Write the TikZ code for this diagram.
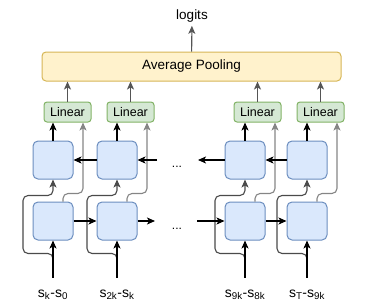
\documentclass[tikz,border=0pt]{standalone}
\usepackage{fontspec}
\setmainfont{Liberation Sans}
\usetikzlibrary{arrows.meta}
\definecolor{cellblue}{HTML}{DAE8FC}
\definecolor{cellline}{HTML}{6C8EBF}
\definecolor{lingreen}{HTML}{D5E8D4}
\definecolor{linline}{HTML}{82B366}
\definecolor{poolyellow}{HTML}{FFF2CC}
\definecolor{poolline}{HTML}{D6B656}
\definecolor{bypassgray}{HTML}{858585}
\definecolor{backgray}{HTML}{4A4A4A}
\definecolor{outgray}{HTML}{555555}

\begin{document}
\begin{tikzpicture}[x=1pt, y=-1pt, >={Stealth[length=8pt,width=7pt,inset=2pt]},
  cell/.style={draw=cellline, fill=cellblue, line width=1pt, rounded corners=5pt, minimum width=40pt, minimum height=38pt, inner sep=0pt},
  lin/.style={draw=linline, fill=lingreen, line width=1pt, rounded corners=3pt, minimum width=47pt, minimum height=20pt, inner sep=0pt, font=\fontsize{12.5}{14}\selectfont},
  seg/.style={font=\fontsize{14}{16}\selectfont, anchor=base},
  bypass/.style={->, bypassgray, line width=1.1pt, rounded corners=5pt},
  backin/.style={->, backgray, line width=1.1pt, rounded corners=5pt},
  flow/.style={->, black, line width=1.1pt},
  toout/.style={->, outgray, line width=1.1pt}]
  \useasboundingbox (0,0) rectangle (384,301);
  % pooling and output
  \node[draw=poolline, fill=poolyellow, line width=1pt, rounded corners=4pt, minimum width=299pt, minimum height=29pt,
    font=\fontsize{13.5}{15}\selectfont] (pool) at (191.5,66.5) {Average Pooling};
  \node[font=\fontsize{13.5}{15}\selectfont] (logits) at (192,16) {logits};
  % linear heads
  \node[lin] (l1) at (67.5,112) {Linear};
  \node[lin] (l2) at (130.5,112) {Linear};
  \node[lin] (l3) at (257.5,112) {Linear};
  \node[lin] (l4) at (320.5,112) {Linear};
  % backward cells (top) and forward cells (bottom)
  \node[cell] (b1) at (53,160) {};
  \node[cell] (b2) at (117,160) {};
  \node[cell] (b3) at (245,160) {};
  \node[cell] (b4) at (307,160) {};
  \node[cell] (f1) at (53,221) {};
  \node[cell] (f2) at (117,221) {};
  \node[cell] (f3) at (245,221) {};
  \node[cell] (f4) at (307,221) {};
  % inputs
  \node[seg] (in1) at (53,297) {s\textsubscript{k}-s\textsubscript{0}};
  \node[seg] (in2) at (117,297) {s\textsubscript{2k}-s\textsubscript{k}};
  \node[seg] (in3) at (245,297) {s\textsubscript{9k}-s\textsubscript{8k}};
  \node[seg] (in4) at (307,297) {s\textsubscript{T}-s\textsubscript{9k}};
  % gaps
  \node[font=\fontsize{12}{14}\selectfont, anchor=base] (dtop) at (177,167) {...};
  \node[font=\fontsize{12}{14}\selectfont, anchor=base] (dbot) at (177,229) {...};
  \coordinate (ftail) at (155,221);
  \coordinate (fhead) at (197,221);
  \coordinate (btail) at (157,160);
  \coordinate (bhead) at (198,160);

  \draw[toout] (pool) -- (logits);
  \draw[toout] (l1.north) -- (l1.north |- pool.south);
  \draw[toout] (l2.north) -- (l2.north |- pool.south);
  \draw[toout] (l3.north) -- (l3.north |- pool.south);
  \draw[toout] (l4.north) -- (l4.north |- pool.south);

  % forward states to linear heads
  \draw[bypass] ([xshift=10pt]f1.north) -- ++(0,-8) -- ++(20,0) coordinate (t1) -- (t1 |- l1.south);
  \draw[bypass] ([xshift=10pt]f2.north) -- ++(0,-8) -- ++(20,0) coordinate (t2) -- (t2 |- l2.south);
  \draw[bypass] ([xshift=10pt]f3.north) -- ++(0,-8) -- ++(20,0) coordinate (t3) -- (t3 |- l3.south);
  \draw[bypass] ([xshift=10pt]f4.north) -- ++(0,-8) -- ++(20,0) coordinate (t4) -- (t4 |- l4.south);
  % input bypass to backward cells
  \draw[backin] (f1.south) ++(0,19) -- ++(0,-6) -- ++(-30,0) |- ([yshift=6pt]f1.north) -- (b1.south);
  \draw[backin] (f2.south) ++(0,19) -- ++(0,-6) -- ++(-30,0) |- ([yshift=6pt]f2.north) -- (b2.south);
  \draw[backin] (f3.south) ++(0,19) -- ++(0,-6) -- ++(-30,0) |- ([yshift=6pt]f3.north) -- (b3.south);
  \draw[backin] (f4.south) ++(0,19) -- ++(0,-6) -- ++(-30,0) |- ([yshift=6pt]f4.north) -- (b4.south);

  \draw[flow] ([yshift=8pt]in1.north) -- (f1.south);
  \draw[flow] ([yshift=8pt]in2.north) -- (f2.south);
  \draw[flow] ([yshift=8pt]in3.north) -- (f3.south);
  \draw[flow] ([yshift=8pt]in4.north) -- (f4.south);
  \draw[flow] (b1.north) -- (b1.north |- l1.south);
  \draw[flow] (b2.north) -- (b2.north |- l2.south);
  \draw[flow] (b3.north) -- (b3.north |- l3.south);
  \draw[flow] (b4.north) -- (b4.north |- l4.south);

  % forward chain
  \draw[flow] (f1) -- (f2);
  \draw[flow] (f2) -- (ftail);
  \draw[flow] (fhead) -- (f3);
  \draw[flow] (f3) -- (f4);
  % backward chain
  \draw[flow] (b2) -- (b1);
  \draw[flow] (btail) -- (b2);
  \draw[flow] (b3) -- (bhead);
  \draw[flow] (b4) -- (b3);
\end{tikzpicture}
\end{document}
